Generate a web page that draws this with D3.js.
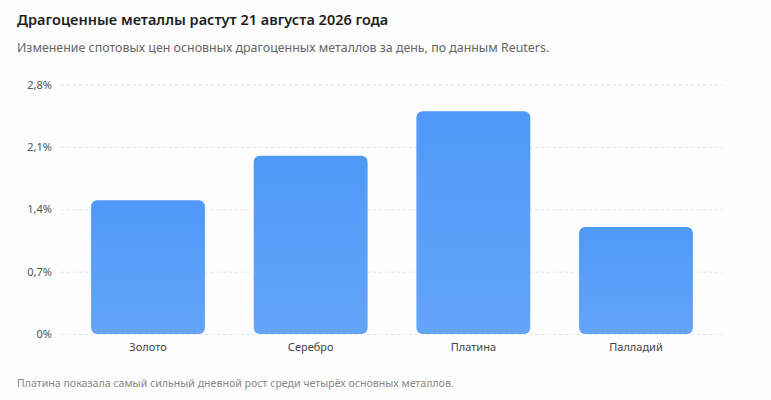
<!DOCTYPE html>
<html><head><meta charset="utf-8">
<script src="https://cdn.jsdelivr.net/npm/d3@7"></script>
<style>
html,body{margin:0;padding:0;background:#fdfdfd;}
svg{display:block;font-family:"Noto Sans","Open Sans",sans-serif;}
</style></head><body>
<svg id="c" width="771" height="400"></svg>
<script>
const categories = ["Золото","Серебро","Платина","Палладий"];
const values = [1.5, 2.0, 2.5, 1.2];
const yTicks = [0, 0.7, 1.4, 2.1, 2.8];
const titleText = "Драгоценные металлы растут 21 августа 2026 года";
const subtitleText = "Изменение спотовых цен основных драгоценных металлов за день, по данным Reuters.";
const noteText = "Платина показала самый сильный дневной рост среди четырёх основных металлов.";

const svg = d3.select("#c");
const mLeft = 61, mRight = 723, mTop = 84.5, mBottom = 334;

const defs = svg.append("defs");
const grad = defs.append("linearGradient").attr("id","bg").attr("x1",0).attr("y1",0).attr("x2",0).attr("y2",1);
grad.append("stop").attr("offset","0%").attr("stop-color","#5099F9");
grad.append("stop").attr("offset","100%").attr("stop-color","#64A4F8");

const x = d3.scaleBand().domain(categories).range([mLeft,mRight]).paddingInner(0.3).paddingOuter(0.185);
const y = d3.scaleLinear().domain([0,2.8]).range([mBottom,mTop]);

svg.append("text").attr("x",17).attr("y",25).attr("font-size",14.5).attr("font-weight",600).attr("fill","#1f1f1f").text(titleText);
svg.append("text").attr("x",17).attr("y",52).attr("font-size",12.4).attr("fill","#666").text(subtitleText);

const fmt = v => (v===0 ? "0" : d3.format(".1f")(v).replace(".",",")) + "%";

const gy = svg.append("g").attr("transform",`translate(${mLeft},0)`)
  .call(d3.axisLeft(y).tickValues(yTicks).tickSize(-(mRight-mLeft)).tickPadding(9).tickFormat(fmt));
gy.select(".domain").remove();
gy.selectAll(".tick line").attr("stroke","#e6e6e6").attr("stroke-dasharray","3,3");
gy.selectAll(".tick text").attr("font-size",11).attr("fill","#555").attr("font-family","Noto Sans, sans-serif");

svg.append("g").selectAll("rect").data(categories).join("rect")
  .attr("x",d=>x(d)).attr("width",x.bandwidth())
  .attr("y",(d,i)=>y(values[i])).attr("height",(d,i)=>y(0)-y(values[i]))
  .attr("rx",6).attr("ry",6).attr("fill","url(#bg)");

const gx = svg.append("g").attr("transform",`translate(0,${mBottom})`)
  .call(d3.axisBottom(x).tickSize(0).tickPadding(9));
gx.select(".domain").remove();
gx.selectAll(".tick text").attr("font-size",11).attr("fill","#444").attr("font-family","Noto Sans, sans-serif");

svg.append("text").attr("x",17).attr("y",387).attr("font-size",10.6).attr("fill","#888").text(noteText);
</script></body></html>
